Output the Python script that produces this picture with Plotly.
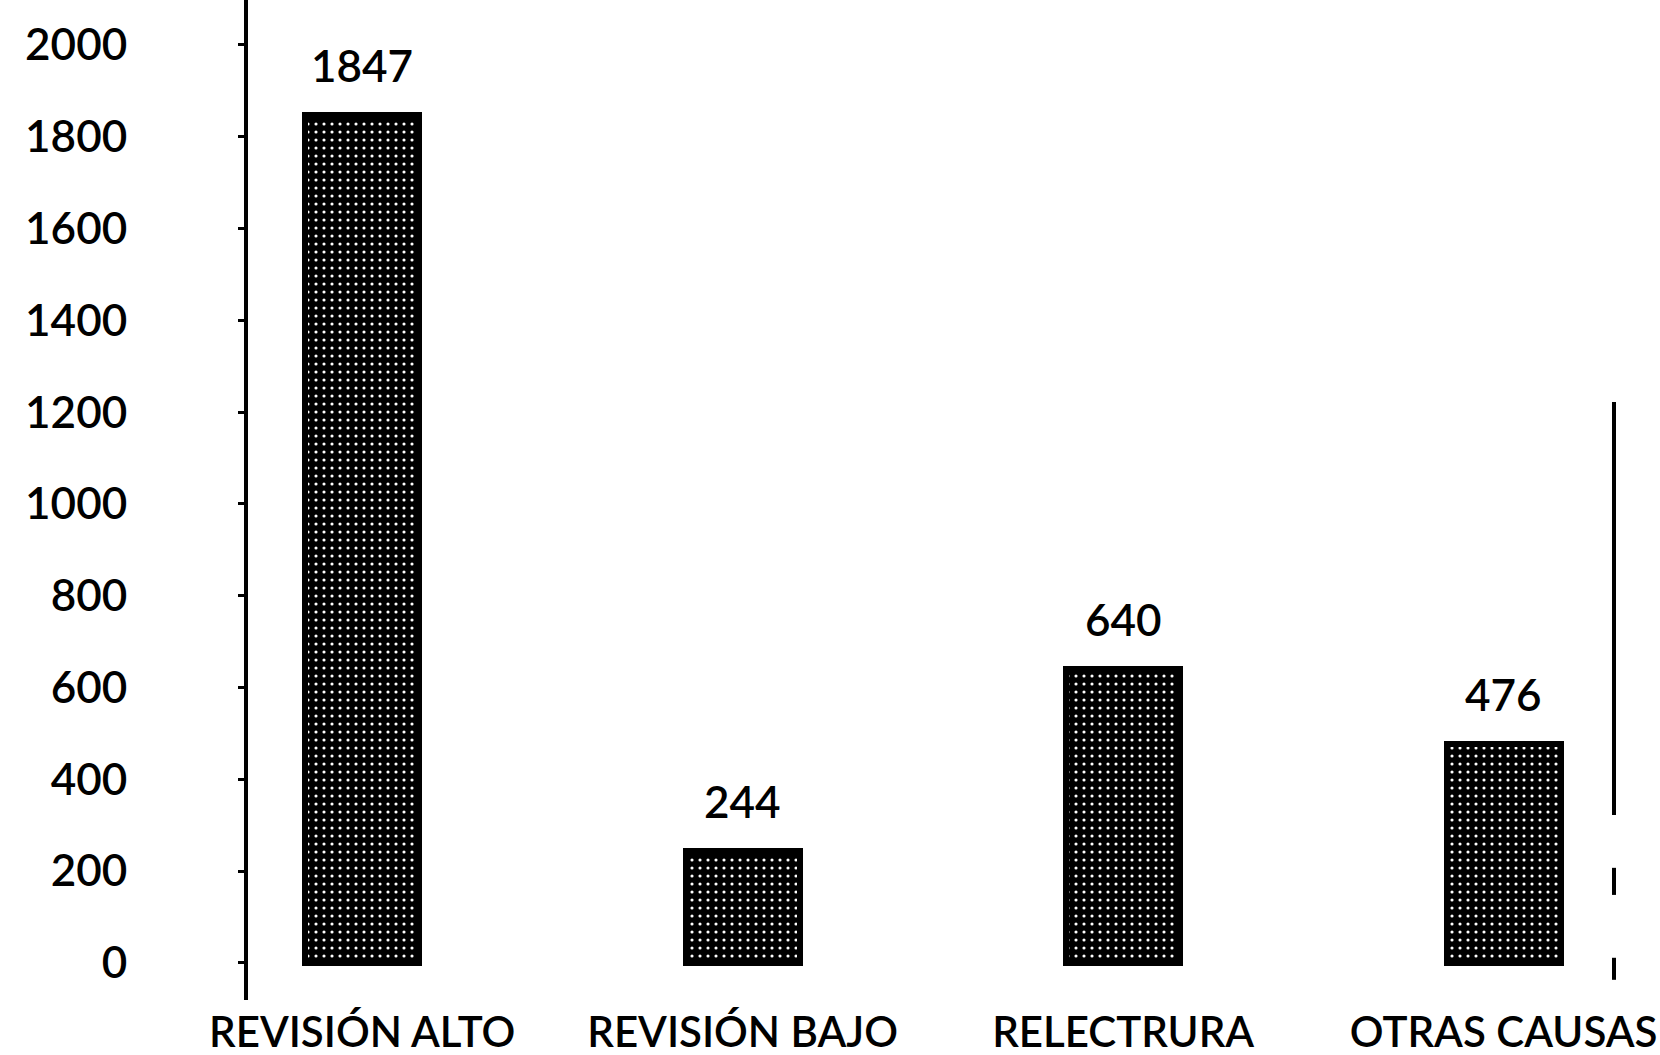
import plotly.graph_objects as go

# Causas de revisión y cantidad de casos
categorias = ["REVISIÓN ALTO", "REVISIÓN BAJO", "RELECTRURA", "OTRAS CAUSAS"]
casos = [1847, 244, 640, 476]
ticks_y = [0, 200, 400, 600, 800, 1000, 1200, 1400, 1600, 1800, 2000]

FONT = "Lato"
SIZE = 44

fig = go.Figure()
fig.add_trace(go.Bar(
    x=categorias,
    y=casos,
    width=0.3,
    marker=dict(
        color="black",
        line=dict(color="black", width=6),
        pattern=dict(shape=".", fgcolor="white", bgcolor="black",
                     size=8, solidity=0.12, fillmode="replace"),
    ),
    showlegend=False,
    hoverinfo="x+y",
))

# Value labels above each bar
for c, v in zip(categorias, casos):
    fig.add_annotation(x=c, y=v, text=str(v), showarrow=False,
                       yanchor="bottom", yshift=22,
                       font=dict(family=FONT, size=SIZE, color="black", weight=600))

# Right-hand frame line (broken)
for y0, y1 in [(322, 1222), (148, 207), (-37, 11)]:
    fig.add_shape(type="line", xref="paper", yref="y", x0=1, x1=1,
                  y0=y0, y1=y1, line=dict(color="black", width=4))

fig.update_layout(
    width=1660, height=1055,
    margin=dict(l=248, r=46, t=0, b=55),
    paper_bgcolor="white", plot_bgcolor="white",
    font=dict(family=FONT, size=SIZE, color="black", weight=600),
    bargap=0,
)
fig.update_xaxes(
    type="category", range=[-0.3, 3.29],
    showline=False, showgrid=False, zeroline=False, ticks="",
    ticklabelstandoff=4,
    tickfont=dict(family=FONT, size=42, color="black", weight=600),
    automargin=False,
)
fig.update_yaxes(
    range=[-81, 2098],
    tickvals=ticks_y, ticktext=[str(t) for t in ticks_y],
    showline=True, linecolor="black", linewidth=4,
    ticks="outside", ticklen=6, tickwidth=3, tickcolor="black",
    ticklabelstandoff=102,
    showgrid=False, zeroline=False,
    tickfont=dict(family=FONT, size=SIZE, color="black", weight=600),
    automargin=False,
)

fig.write_html("out.html")
